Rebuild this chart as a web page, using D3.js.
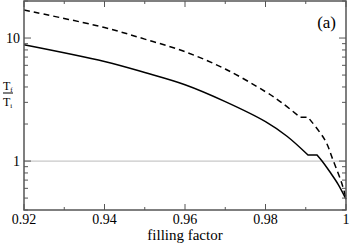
<!DOCTYPE html>
<html>
<head>
<meta charset="utf-8">
<script src="https://cdn.jsdelivr.net/npm/d3@7.9.0/dist/d3.min.js"></script>
<style>
  body { margin: 0; background: #fff; }
</style>
</head>
<body>
<svg id="chart" width="350" height="245" font-family="'Liberation Serif', 'Times New Roman', 'DejaVu Serif', serif"></svg>
<script>
// filling factor vs Tf/Ti
const solidX = [0.92, 0.94, 0.95, 0.96, 0.97, 0.98, 0.98534, 0.99056, 0.9928, 0.99404, 0.99602, 0.99801, 1.0];
const solidY = [8.82, 6.44, 5.24, 4.17, 3.04, 2.09, 1.59, 1.119, 1.119, 1.0, 0.814, 0.65, 0.491];
const dashX = [0.92, 0.94, 0.95, 0.96, 0.97, 0.98, 0.98447, 0.98857, 0.99056, 0.99478, 0.99677, 0.99893, 1.0];
const dashY = [16.89, 12.17, 9.8, 7.74, 5.6, 3.66, 2.91, 2.27, 2.27, 1.48, 1.02, 0.663, 0.50];
// index where each curve's flat step starts and ends
const solidStep = [7, 8];
const dashStep = [7, 8];
const xTicks = [0.92, 0.94, 0.96, 0.98, 1];
const xMinor = [0.93, 0.95, 0.97, 0.99];
const yTicks = [1, 10];
const yMinor = [0.4, 0.5, 0.6, 0.7, 0.8, 0.9, 2, 3, 4, 5, 6, 7, 8, 9, 20];

const margin = {top: 1, right: 4, bottom: 35, left: 24};
const width = 350, height = 245;
const svg = d3.select('#chart');

const x = d3.scaleLinear().domain([0.92, 1]).range([margin.left, width - margin.right]);
const y = d3.scaleLog().domain([0.4, 20]).range([height - margin.bottom, margin.top]);

// reference line at 1
svg.append('line')
  .attr('x1', x(0.92)).attr('x2', x(1))
  .attr('y1', y(1)).attr('y2', y(1))
  .attr('stroke', '#c8c8c8').attr('stroke-width', 1.2);

// smooth pieces around a straight flat step
function stepPath(xs, ys, step) {
  const pts = d3.zip(xs, ys);
  const smooth = d3.line().x(d => x(d[0])).y(d => y(d[1])).curve(d3.curveCatmullRom.alpha(0.5));
  const flat = d3.line().x(d => x(d[0])).y(d => y(d[1]));
  return smooth(pts.slice(0, step[0] + 1)) +
    flat(pts.slice(step[0], step[1] + 1)).replace(/^M/, 'L') +
    smooth(pts.slice(step[1])).replace(/^M[^LC]*/, '');
}

svg.append('path')
  .attr('d', stepPath(solidX, solidY, solidStep))
  .attr('fill', 'none').attr('stroke', '#000').attr('stroke-width', 1.5);

svg.append('path')
  .attr('d', stepPath(dashX, dashY, dashStep))
  .attr('fill', 'none').attr('stroke', '#000').attr('stroke-width', 1.5)
  .attr('stroke-dasharray', '6,4');

// axes, ticks inward on all sides
const H = height - margin.bottom, T = margin.top;
const L = margin.left, R = width - margin.right;
const g = svg.append('g').attr('stroke', '#555').attr('stroke-width', 1);

xTicks.forEach(v => {
  g.append('line').attr('x1', x(v)).attr('x2', x(v)).attr('y1', H).attr('y2', H - 6);
  g.append('line').attr('x1', x(v)).attr('x2', x(v)).attr('y1', T).attr('y2', T + 6);
});
xMinor.forEach(v => {
  g.append('line').attr('x1', x(v)).attr('x2', x(v)).attr('y1', H).attr('y2', H - 3);
  g.append('line').attr('x1', x(v)).attr('x2', x(v)).attr('y1', T).attr('y2', T + 3);
});
yTicks.forEach(v => {
  g.append('line').attr('x1', L).attr('x2', L + 7).attr('y1', y(v)).attr('y2', y(v));
  g.append('line').attr('x1', R).attr('x2', R - 7).attr('y1', y(v)).attr('y2', y(v));
});
yMinor.forEach(v => {
  g.append('line').attr('x1', L).attr('x2', L + 4).attr('y1', y(v)).attr('y2', y(v));
  g.append('line').attr('x1', R).attr('x2', R - 4).attr('y1', y(v)).attr('y2', y(v));
});

svg.append('rect')
  .attr('x', L).attr('y', T).attr('width', R - L).attr('height', H - T)
  .attr('fill', 'none').attr('stroke', '#555').attr('stroke-width', 1.5);

// tick labels
svg.selectAll('.xl').data(xTicks).enter().append('text')
  .attr('x', d => x(d)).attr('y', H + 14)
  .attr('text-anchor', 'middle').attr('font-size', 14)
  .text(d => d === 1 ? '1' : d3.format('.2f')(d));

svg.selectAll('.yl').data(yTicks).enter().append('text')
  .attr('x', L - 4).attr('y', d => y(d) + 5)
  .attr('text-anchor', 'end').attr('font-size', 14)
  .text(d => d);

svg.append('text')
  .attr('x', (L + R) / 2).attr('y', 240)
  .attr('text-anchor', 'middle').attr('font-size', 15)
  .text('filling factor');

// y label as a fraction T_f / T_i
const fr = svg.append('g').attr('font-size', 12);
const num = fr.append('text').attr('x', 3).attr('y', 90);
num.append('tspan').text('T');
num.append('tspan').attr('font-size', 7).attr('dy', 2).text('f');
fr.append('line').attr('x1', 3).attr('x2', 13).attr('y1', 93).attr('y2', 93)
  .attr('stroke', '#000').attr('stroke-width', 1);
const den = fr.append('text').attr('x', 3).attr('y', 106);
den.append('tspan').text('T');
den.append('tspan').attr('font-size', 7).attr('dy', 2).text('i');

svg.append('text')
  .attr('x', 336).attr('y', 28)
  .attr('text-anchor', 'end').attr('font-size', 17)
  .text('(a)');
</script>
</body>
</html>
